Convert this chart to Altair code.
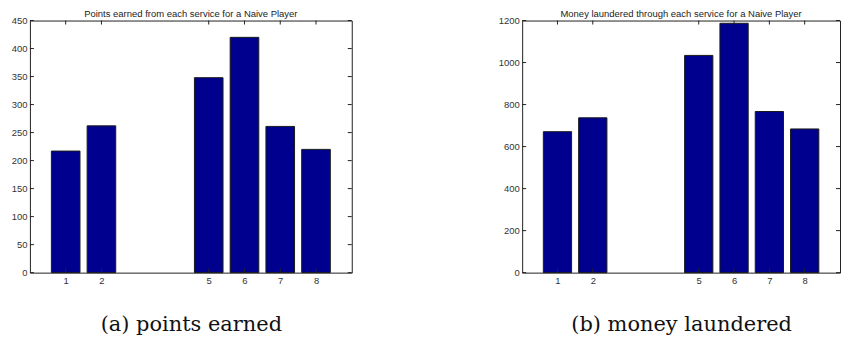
import altair as alt
import pandas as pd

services = [1, 2, 5, 6, 7, 8]
points = [217, 262, 348, 420, 261, 220]
money = [671, 737, 1034, 1187, 767, 684]

x_ticks = [1, 2, 5, 6, 7, 8]
y_ticks_a = [0, 50, 100, 150, 200, 250, 300, 350, 400, 450]
y_ticks_b = [0, 200, 400, 600, 800, 1000, 1200]

titles = ["Points earned from each service for a Naive Player",
          "Money laundered through each service for a Naive Player"]
captions = ["(a) points earned", "(b) money laundered"]

BAR = "#00008F"
TXT = "#333333"
H = 253


def panel(values, yticks, ymax, title, caption, W):
    df = pd.DataFrame({"service": services, "value": values})
    xs = alt.Scale(domain=[0, 9], nice=False, zero=False)
    ys = alt.Scale(domain=[0, ymax], nice=False)
    xax = alt.Axis(values=x_ticks, title=caption, ticks=False, domain=False,
                   grid=False, labelPadding=3, labelFontSize=9.5,
                   labelColor=TXT, labelFont="Liberation Sans",
                   titleFont="DejaVu Serif", titleFontSize=21,
                   titleFontWeight="normal", titleColor="#111",
                   titlePadding=29)
    yax = alt.Axis(values=yticks, title=None, ticks=False, domain=False,
                   grid=False, labelPadding=3, labelFontSize=9.5,
                   labelColor=TXT, labelFont="Liberation Sans",
                   format="d", labelOverlap=False)
    bars = alt.Chart(df).transform_calculate(
        x0="datum.service - 0.4", x1="datum.service + 0.4"
    ).mark_bar(color=BAR, stroke="#1a1a1a", strokeWidth=1).encode(
        x=alt.X("x0:Q", scale=xs, axis=xax),
        x2="x1:Q",
        y=alt.Y("value:Q", scale=ys, axis=yax),
        y2=alt.datum(0),
    )
    xt = pd.DataFrame({"t": x_ticks})
    yt = pd.DataFrame({"t": yticks})
    tb = alt.Chart(xt).mark_rule(color="#222", strokeWidth=1).encode(
        x=alt.X("t:Q", scale=xs, axis=xax), y=alt.value(H - 4), y2=alt.value(H))
    tt = alt.Chart(xt).mark_rule(color="#222", strokeWidth=1).encode(
        x=alt.X("t:Q", scale=xs, axis=xax), y=alt.value(0), y2=alt.value(4))
    tl = alt.Chart(yt).mark_rule(color="#222", strokeWidth=1).encode(
        y=alt.Y("t:Q", scale=ys, axis=yax), x=alt.value(0), x2=alt.value(4))
    tr = alt.Chart(yt).mark_rule(color="#222", strokeWidth=1).encode(
        y=alt.Y("t:Q", scale=ys, axis=yax), x=alt.value(W - 4), x2=alt.value(W))
    return alt.layer(bars, tb, tt, tl, tr).properties(
        width=W, height=H,
        title=alt.TitleParams(title, fontSize=9.5, font="Liberation Sans",
                              fontWeight="normal", color="#222", offset=-3),
    )


left = panel(points, y_ticks_a, 450, titles[0], captions[0], 323)
right = panel(money, y_ticks_b, 1200, titles[1], captions[1], 319)

chart = alt.hconcat(left, right, spacing=145).resolve_scale(
    x="independent", y="independent"
).properties(
    padding={"left": 2, "top": 0, "right": 0, "bottom": 0},
    background="white",
).configure_view(stroke="#222", strokeWidth=1)

chart.save("out.html", embed_options={"renderer": "svg", "actions": False})
